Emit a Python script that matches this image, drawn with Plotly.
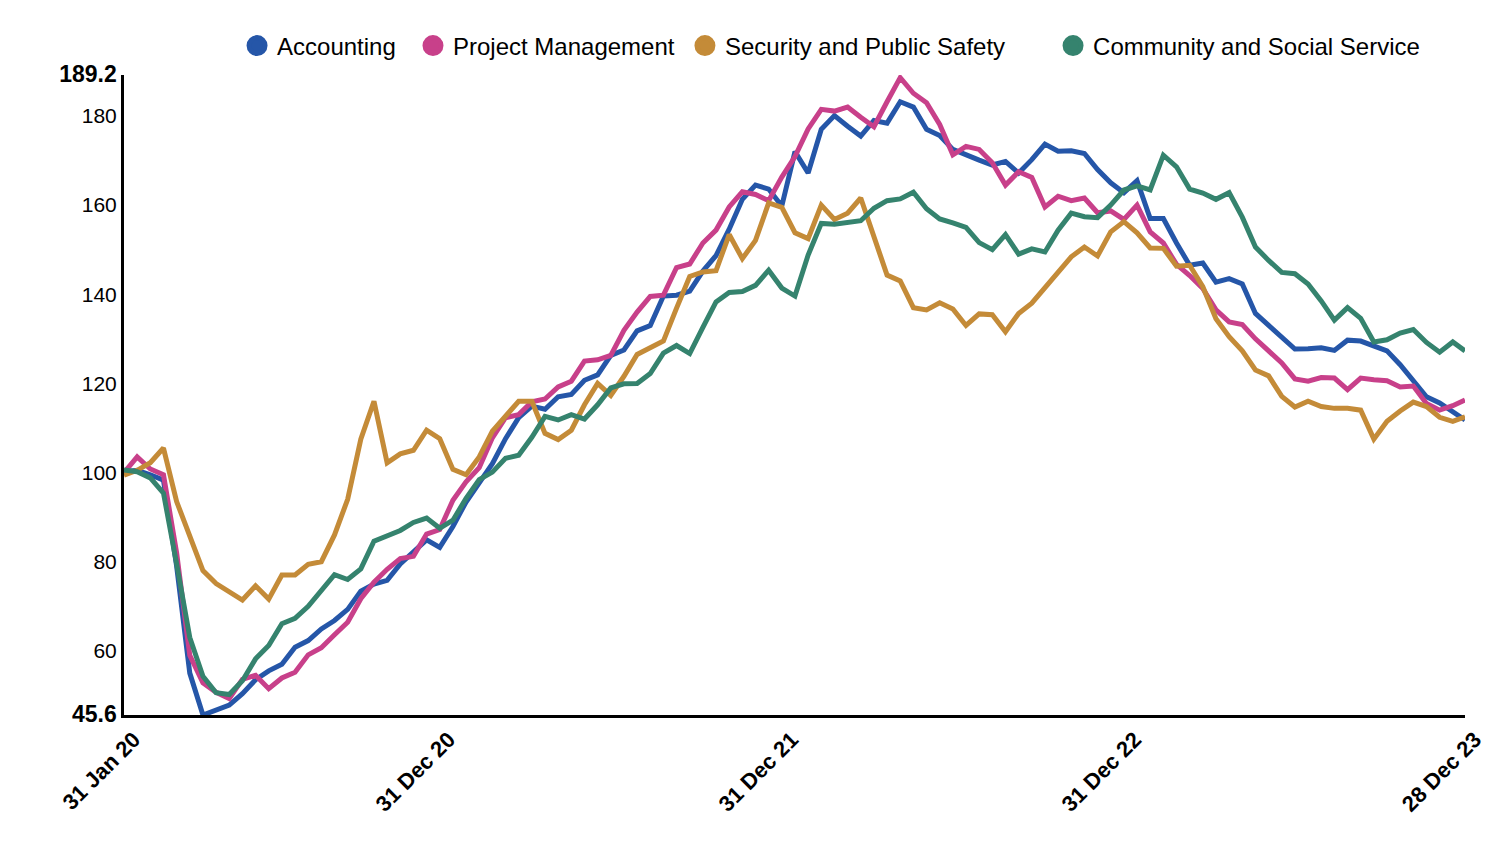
import pandas as pd
import plotly.graph_objects as go

# dates: every 14 days from 31 Jan 2020, plus final date
dates = list(pd.date_range("2020-01-31", periods=102, freq="14D").strftime("%Y-%m-%d")) + ["2023-12-28"]

accounting = [100.2, 100.5, 99.5, 98.3, 79, 55, 45.6, 46.7, 47.8, 50.4,
              53.5, 55.5, 57, 60.8, 62.3, 64.9, 66.8, 69.3, 73.4, 75,
              75.8, 79.5, 82.2, 84.9, 83.2, 87.9, 93.4, 97.8, 102, 107.6,
              112.3, 114.9, 114.2, 117, 117.5, 120.7, 121.9, 126.3, 127.5, 131.8,
              133, 139.6, 139.8, 140.7, 145.2, 148.7, 154.6, 161.3, 164.5, 163.6,
              159.8, 172, 167.2, 177, 180.1, 177.7, 175.5, 179, 178.4, 183.2,
              182, 177, 175.6, 172.5, 171.2, 170.1, 169, 169.8, 167.2, 170.2,
              173.7, 172.1, 172.2, 171.6, 168, 165, 162.8, 165.5, 157, 157,
              151.5, 146.5, 147, 142.7, 143.5, 142.3, 135.7, 133, 130.6, 127.7,
              127.8, 128, 127.4, 129.7, 129.5, 128.4, 127.3, 124.2, 120.6, 117,
              115.6, 113.6, 111.8]

project_mgmt = [100, 103.5, 100.8, 99.5, 82, 59, 52.8, 50.7, 49.3, 53.6,
                54.5, 51.5, 53.9, 55.2, 59.1, 60.7, 63.6, 66.4, 71.7, 75.4,
                78.3, 80.7, 81.2, 86.2, 87.2, 93.8, 97.9, 101.1, 107.8, 112.3,
                113, 115.9, 116.5, 119.2, 120.5, 125, 125.3, 126.3, 131.9, 136,
                139.5, 139.8, 146, 146.8, 151.5, 154.4, 159.6, 163, 162.4, 161,
                166.3, 170.9, 177.1, 181.5, 181.1, 182, 179.7, 177.6, 183.2, 188.6,
                185.1, 183, 178.1, 171.3, 173.2, 172.5, 169.5, 164.5, 167.5, 166.2,
                159.6, 162, 161, 161.6, 158.3, 158.7, 156.8, 160, 154, 151.5,
                146.7, 144.2, 141.3, 136.5, 133.8, 133.2, 130, 127.4, 124.6, 121,
                120.5, 121.3, 121.2, 118.6, 121.2, 120.8, 120.6, 119.2, 119.4, 115.5,
                114, 115, 116.3]

security = [99.4, 100.5, 102.2, 105.5, 93.5, 85.5, 78, 75.1, 73.1, 71.4,
            74.6, 71.6, 77, 77, 79.4, 80, 86, 94, 107.5, 116,
            102.2, 104.2, 105, 109.5, 107.6, 100.7, 99.5, 103.5, 109.3, 112.7,
            116, 116, 108.8, 107.4, 109.5, 115.2, 120, 117.3, 121.6, 126.5,
            128, 129.5, 136.9, 144, 145, 145.3, 153.4, 148, 152.1, 160.5,
            159.5, 153.8, 152.5, 160, 156.8, 158.2, 161.6, 153, 144.3, 143,
            137, 136.5, 138.1, 136.7, 133, 135.6, 135.4, 131.6, 135.7, 138,
            141.5, 144.8, 148.4, 150.6, 148.6, 154, 156.3, 153.8, 150.4, 150.3,
            146.3, 146.5, 141.7, 134.5, 130.5, 127.3, 123, 121.7, 117.1, 114.7,
            116, 114.8, 114.4, 114.4, 114, 107.5, 111.5, 113.8, 115.8, 114.8,
            112.4, 111.5, 112.5]

community = [100.6, 100.2, 98.8, 95.4, 79.5, 63, 54.3, 50.6, 50.2, 53.3,
             58.2, 61.2, 66.1, 67.3, 70, 73.7, 77.1, 76, 78.4, 84.6,
             85.7, 87, 88.8, 89.8, 87.5, 89.3, 94.2, 98.4, 100.1, 103.2,
             103.9, 107.9, 112.6, 111.8, 113, 112, 115.2, 119, 119.9, 120,
             122.2, 126.8, 128.5, 126.7, 132.6, 138.3, 140.4, 140.6, 142, 145.4,
             141.4, 139.6, 148.8, 155.9, 155.7, 156, 156.5, 159.3, 161, 161.4,
             162.9, 159.2, 156.9, 156, 155, 151.6, 150, 153.4, 149, 150.2,
             149.5, 154.4, 158.2, 157.4, 157.2, 160, 163.4, 164.3, 163.4, 171.2,
             168.6, 163.6, 162.7, 161.3, 162.8, 157.3, 150.6, 147.6, 144.9, 144.6,
             142.3, 138.5, 134.2, 137, 134.6, 129.3, 129.8, 131.3, 132.1, 129.2,
             127, 129.3, 127.3]

series_names = ["Accounting", "Project Management", "Security and Public Safety",
                "Community and Social Service"]
series_values = [accounting, project_mgmt, security, community]
colors = ["#2556A8", "#C8408A", "#C48B38", "#35836E"]

y_min, y_max = 45.6, 189.2
y_ticks = [45.6, 60, 80, 100, 120, 140, 160, 180, 189.2]
y_ticktext = ['<span style="font-size:23px"><b>45.6</b></span>', "60", "80", "100", "120",
              "140", "160", "180", '<span style="font-size:23px"><b>189.2</b></span>']
x_ticks = ["2020-01-31", "2020-12-31", "2021-12-31", "2022-12-31", "2023-12-28"]
x_ticktext = ["<b>31 Jan 20</b>", "<b>31 Dec 20</b>", "<b>31 Dec 21</b>",
              "<b>31 Dec 22</b>", "<b>28 Dec 23</b>"]
legend_x = [0.0843, 0.2155, 0.4183, 0.6928]
legend_ids = ["legend", "legend2", "legend3", "legend4"]

font_family = "Arial, Liberation Sans, sans-serif"

fig = go.Figure()
for name, vals, col in zip(series_names, series_values, colors):
    fig.add_trace(go.Scatter(x=dates, y=vals, mode="lines", name=name,
                             line=dict(color=col, width=5), showlegend=False))
for name, col, lid in zip(series_names, colors, legend_ids):
    fig.add_trace(go.Scatter(x=[None], y=[None], mode="markers", name=name,
                             legend=lid, showlegend=True,
                             marker=dict(color=col, size=16, symbol="circle",
                                         line=dict(color=col, width=5))))

legend_layout = {}
for lid, lx in zip(legend_ids, legend_x):
    legend_layout[lid] = dict(orientation="h", x=lx, xanchor="left", y=1.0453,
                              yanchor="middle", font=dict(size=24, family=font_family),
                              itemclick=False, itemdoubleclick=False,
                              bgcolor="rgba(0,0,0,0)")

fig.update_layout(
    width=1500, height=840,
    margin=dict(l=116, r=43, t=67, b=133),
    plot_bgcolor="white", paper_bgcolor="white",
    font=dict(family=font_family, size=20, color="black"),
    xaxis=dict(type="date", range=[dates[0], dates[-1]], tickvals=x_ticks,
               ticktext=x_ticktext, tickangle=-45, showgrid=False, zeroline=False,
               showline=True, linecolor="black", linewidth=3, ticks="",
               ticklabelshift=10,
               tickfont=dict(size=22, family=font_family)),
    yaxis=dict(range=[y_min, y_max], tickvals=y_ticks, ticktext=y_ticktext,
               showgrid=False, zeroline=False, showline=True, linecolor="black",
               linewidth=3, ticks="", tickfont=dict(size=21, family=font_family)),
    **legend_layout,
)
fig.write_html("out.html")
